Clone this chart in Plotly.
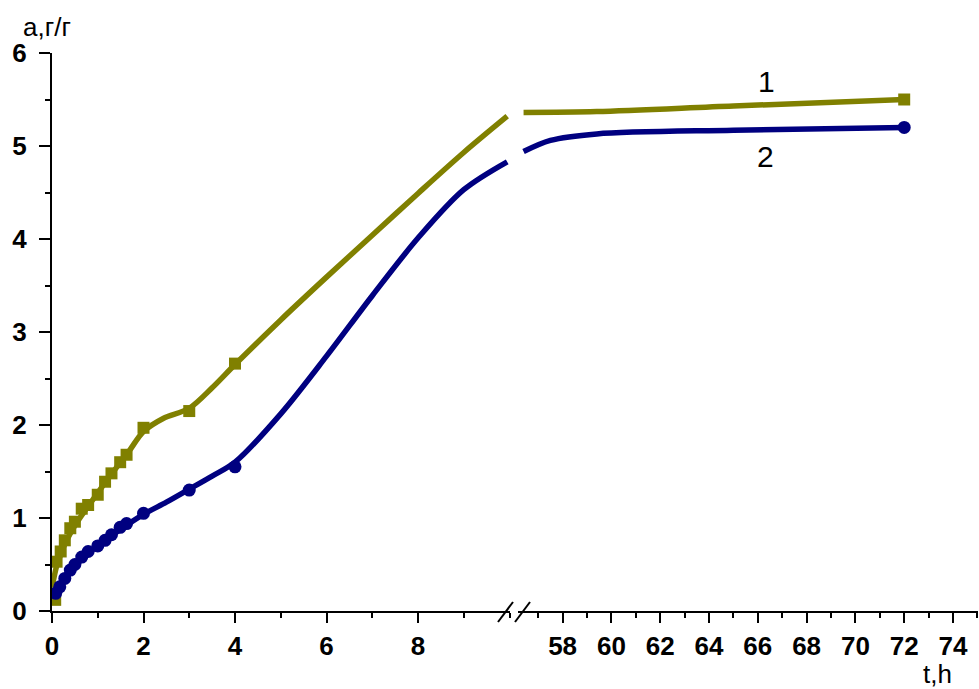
import plotly.graph_objects as go

# ---- data: measured points (markers) ----
t1_pts = [0.07, 0.1, 0.19, 0.28, 0.4, 0.5, 0.65, 0.79, 1.0, 1.16, 1.3, 1.49, 1.63, 2.0, 3.0, 4.0]
a1_pts = [0.12, 0.53, 0.64, 0.76, 0.89, 0.96, 1.1, 1.14, 1.25, 1.39, 1.48, 1.6, 1.68, 1.97, 2.15, 2.66]
t2_pts = [0.08, 0.17, 0.28, 0.4, 0.5, 0.65, 0.79, 1.0, 1.16, 1.3, 1.49, 1.63, 2.0, 3.0, 4.0]
a2_pts = [0.19, 0.26, 0.35, 0.44, 0.5, 0.58, 0.64, 0.7, 0.76, 0.82, 0.9, 0.94, 1.05, 1.3, 1.55]
t_late = [72]
a1_late = [5.5]
a2_late = [5.2]

# ---- data: smooth fitted curves ----
t1_curve = [0, 0.1, 0.2, 0.3, 0.5, 0.75, 1.0, 1.25, 1.5, 1.7, 2.0, 2.43, 3.0, 3.5, 4.0, 5.0, 6.0, 7.0, 8.0, 9.0, 9.95]
a1_curve = [0.25, 0.48, 0.62, 0.74, 0.92, 1.1, 1.27, 1.44, 1.6, 1.73, 1.93, 2.07, 2.18, 2.40, 2.65, 3.13, 3.59, 4.04, 4.49, 4.93, 5.32]
t2_curve = [0, 0.1, 0.25, 0.5, 0.75, 1.0, 1.5, 2.0, 2.5, 3.0, 3.5, 4.0, 5.0, 6.0, 7.0, 8.0, 9.0, 9.95]
a2_curve = [0.15, 0.22, 0.33, 0.48, 0.6, 0.7, 0.88, 1.04, 1.17, 1.31, 1.45, 1.6, 2.12, 2.74, 3.39, 4.01, 4.53, 4.83]
t1_curve_r = [56.4, 59.4, 65.0, 72.0]
a1_curve_r = [5.36, 5.37, 5.43, 5.5]
t2_curve_r = [56.4, 57.5, 59.4, 65.0, 72.0]
a2_curve_r = [4.94, 5.06, 5.13, 5.17, 5.2]

x_left_ticks = [0, 2, 4, 6, 8]
x_right_ticks = [58, 60, 62, 64, 66, 68, 70, 72, 74]
y_ticks = [0, 1, 2, 3, 4, 5, 6]

OLIVE = "#808000"
NAVY = "#000080"
FONT = "Liberation Sans, Arial, sans-serif"

fig = go.Figure()
lw = 5.5
sm = 0.9
fig.add_trace(go.Scatter(x=t1_curve, y=a1_curve, mode="lines", xaxis="x", yaxis="y",
                         line=dict(color=OLIVE, width=lw, shape="spline", smoothing=sm)))
fig.add_trace(go.Scatter(x=t2_curve, y=a2_curve, mode="lines", xaxis="x", yaxis="y",
                         line=dict(color=NAVY, width=lw, shape="spline", smoothing=sm)))
fig.add_trace(go.Scatter(x=t1_curve_r, y=a1_curve_r, mode="lines", xaxis="x2", yaxis="y",
                         line=dict(color=OLIVE, width=lw, shape="spline", smoothing=sm)))
fig.add_trace(go.Scatter(x=t2_curve_r, y=a2_curve_r, mode="lines", xaxis="x2", yaxis="y",
                         line=dict(color=NAVY, width=lw, shape="spline", smoothing=sm)))
fig.add_trace(go.Scatter(x=t1_pts, y=a1_pts, mode="markers", xaxis="x", yaxis="y",
                         marker=dict(symbol="square", size=12, color=OLIVE)))
fig.add_trace(go.Scatter(x=t2_pts, y=a2_pts, mode="markers", xaxis="x", yaxis="y",
                         marker=dict(symbol="circle", size=13, color=NAVY)))
fig.add_trace(go.Scatter(x=t_late, y=a1_late, mode="markers", xaxis="x2", yaxis="y",
                         marker=dict(symbol="square", size=12, color=OLIVE)))
fig.add_trace(go.Scatter(x=t_late, y=a2_late, mode="markers", xaxis="x2", yaxis="y",
                         marker=dict(symbol="circle", size=13, color=NAVY)))

W, H = 979, 689
L, R, T, B = 52, 1, 53, 78
pw = W - L - R
ph = H - T - B
left_end_px = 509.5
right_start_px = 518
px_per_unit_r = 24.4
r_end = 74 + (W - R - 953) / px_per_unit_r
r_start = 74 - (953 - right_start_px) / px_per_unit_r

tickfont = dict(family=FONT, size=26, color="black", weight="bold")
common_x = dict(showgrid=False, zeroline=False, showline=True, linecolor="black", linewidth=2,
                ticks="outside", ticklen=10, tickwidth=2, tickcolor="black",
                tickfont=tickfont, ticklabelstandoff=1, anchor="y")

fig.update_layout(
    width=W, height=H,
    margin=dict(l=L, r=R, t=T, b=B),
    paper_bgcolor="white", plot_bgcolor="white",
    showlegend=False,
    xaxis=dict(domain=[0, (left_end_px - L) / pw], range=[0, 10],
               tickmode="array", tickvals=x_left_ticks,
               minor=dict(dtick=1, tick0=0, ticks="outside", ticklen=5, tickwidth=2, tickcolor="black"),
               **common_x),
    xaxis2=dict(domain=[(right_start_px - L) / pw, 1], range=[r_start, r_end],
                tickmode="array", tickvals=x_right_ticks,
                minor=dict(dtick=1, tick0=57, ticks="outside", ticklen=5, tickwidth=2, tickcolor="black"),
                **common_x),
    yaxis=dict(range=[0, 6], tickmode="array", tickvals=y_ticks, anchor="x",
               showgrid=False, zeroline=False, showline=True, linecolor="black", linewidth=2,
               ticks="outside", ticklen=11, tickwidth=2, tickcolor="black",
               tickfont=tickfont, ticklabelstandoff=7,
               minor=dict(dtick=0.5, ticks="outside", ticklen=5, tickwidth=2, tickcolor="black")),
)

def px2x(px):
    return (px - L) / pw

def py2y(py):
    return (H - B - py) / ph

# axis-break marks
for x0, x1 in [(498, 513), (515, 530)]:
    fig.add_shape(type="line", xref="paper", yref="paper",
                  x0=px2x(x0), y0=py2y(622), x1=px2x(x1), y1=py2y(602),
                  line=dict(color="black", width=2))

ann_font = dict(family=FONT, size=26, color="black")
fig.add_annotation(text="а,г/г", xref="paper", yref="paper", x=px2x(47), y=py2y(27),
                   showarrow=False, font=ann_font, xanchor="center", yanchor="middle")
fig.add_annotation(text="t,h", xref="paper", yref="paper", x=px2x(937), y=py2y(674),
                   showarrow=False, font=ann_font, xanchor="center", yanchor="middle")
fig.add_annotation(text="1", xref="paper", yref="paper", x=px2x(766), y=py2y(81),
                   showarrow=False, font=dict(family=FONT, size=30, color="black"),
                   xanchor="center", yanchor="middle")
fig.add_annotation(text="2", xref="paper", yref="paper", x=px2x(765), y=py2y(156),
                   showarrow=False, font=dict(family=FONT, size=30, color="black"),
                   xanchor="center", yanchor="middle")

fig.write_html("out.html")
